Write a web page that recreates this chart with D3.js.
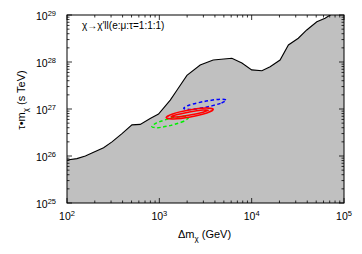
<!DOCTYPE html>
<html>
<head>
<meta charset="utf-8">
<script src="https://cdn.jsdelivr.net/npm/d3@7"></script>
<style>
  body { margin: 0; background: #fff; }
  svg text { font-family: "Liberation Sans", Arial, sans-serif; fill: #000; }
</style>
</head>
<body>
<div id="graphic"></div>
<script>
// excluded region boundary (mass in GeV, tau*m in s TeV)
const boundaryMass = [100, 128, 158, 194, 249, 307, 394, 505, 621, 796, 980, 1313, 1550, 1990, 2770, 3830, 6100, 7840, 10000, 12900, 15850, 20300, 25000, 32000, 39500, 50800, 62400, 70800, 100000];
const boundaryTau = [8.2e25, 8.8e25, 1.0e26, 1.2e26, 1.5e26, 2.0e26, 3.0e26, 4.6e26, 4.7e26, 6.3e26, 7.8e26, 1.55e27, 2.5e27, 5.2e27, 8.6e27, 1.1e28, 1.2e28, 9.5e27, 6.8e27, 6.5e27, 7.9e27, 1.1e28, 2.3e28, 3.2e28, 4.8e28, 7.2e28, 8.5e28, 1.0e29, 1.6e29];

// fit contours
const redOuterMass = [3837, 3266, 2163, 1422, 1186, 1393, 2099, 3199];
const redOuterTau = [9.87e26, 8.22e26, 6.79e26, 6.16e26, 6.53e26, 7.83e26, 9.48e26, 1.045e27];
const redInnerMass = [3396, 2978, 2148, 1542, 1340, 1528, 2119, 2951];
const redInnerTau = [9.42e26, 8.55e26, 7.45e26, 6.79e26, 6.82e26, 7.53e26, 8.63e26, 9.48e26];
const blueMass = [5300, 4600, 3192, 2178, 1837, 2123, 3083, 4529];
const blueTau = [1.55e27, 1.32e27, 1.09e27, 9.8e26, 1.03e27, 1.22e27, 1.45e27, 1.62e27];
const greenMass = [2075, 1841, 1340, 964, 830, 935, 1285, 1786];
const greenTau = [6.62e26, 5.50e26, 4.48e26, 4.00e26, 4.23e26, 5.06e26, 6.25e26, 6.97e26];

const xDecades = [2, 3, 4, 5];
const yDecades = [25, 26, 27, 28, 29];

const width = 362, height = 254;
const margin = { top: 15, right: 18, bottom: 51, left: 67 };
const chart_width = width - margin.left - margin.right;
const chart_height = height - margin.top - margin.bottom;

const svg = d3.select('#graphic').append('svg')
  .attr('width', width).attr('height', height);
const g = svg.append('g').attr('transform', `translate(${margin.left},${margin.top})`);

const x = d3.scaleLog().domain([1e2, 1e5]).range([0, chart_width]);
const y = d3.scaleLog().domain([1e25, 1e29]).range([chart_height, 0]);

g.append('clipPath').attr('id', 'plotclip')
  .append('rect').attr('width', chart_width).attr('height', chart_height);

const zip = (a, b) => a.map((d, i) => [d, b[i]]);
const boundary = zip(boundaryMass, boundaryTau);

const plot = g.append('g').attr('clip-path', 'url(#plotclip)');

plot.append('path')
  .datum(boundary)
  .attr('fill', '#c0c0c0')
  .attr('d', d3.area().x(d => x(d[0])).y0(chart_height).y1(d => y(d[1])));

plot.append('path')
  .datum(boundary)
  .attr('fill', 'none')
  .attr('stroke', '#000')
  .attr('stroke-width', 1.1)
  .attr('d', d3.line().x(d => x(d[0])).y(d => y(d[1])));

const contour = d3.line().x(d => x(d[0])).y(d => y(d[1])).curve(d3.curveCardinalClosed.tension(0.2));
const contours = [
  { pts: zip(greenMass, greenTau), color: '#00ee00', dash: '3.5,2.5' },
  { pts: zip(blueMass, blueTau), color: '#0000ff', dash: '3.5,2.5' },
  { pts: zip(redOuterMass, redOuterTau), color: '#ff0000', dash: null },
  { pts: zip(redInnerMass, redInnerTau), color: '#ff0000', dash: null }
];
plot.selectAll('path.contour')
  .data(contours)
  .join('path')
  .attr('class', 'contour')
  .attr('fill', 'none')
  .attr('stroke', d => d.color)
  .attr('stroke-width', 1.5)
  .attr('stroke-dasharray', d => d.dash)
  .attr('d', d => contour(d.pts));

// frame
g.append('rect')
  .attr('width', chart_width).attr('height', chart_height)
  .attr('fill', 'none').attr('stroke', '#000').attr('stroke-width', 1);

// inward ticks on all four sides
function logTicks(decades) {
  const out = [];
  decades.forEach((e, i) => {
    out.push({ v: Math.pow(10, e), major: true });
    if (i < decades.length - 1) {
      for (let k = 2; k <= 9; k++) out.push({ v: k * Math.pow(10, e), major: false });
    }
  });
  return out;
}
const xt = logTicks(xDecades), yt = logTicks(yDecades);
const tk = g.append('g').attr('stroke', '#000').attr('stroke-width', 0.8);
xt.forEach(t => {
  const len = t.major ? 5 : 2.5, px = x(t.v);
  tk.append('line').attr('x1', px).attr('x2', px).attr('y1', chart_height).attr('y2', chart_height - len);
  tk.append('line').attr('x1', px).attr('x2', px).attr('y1', 0).attr('y2', len);
});
yt.forEach(t => {
  const len = t.major ? 5 : 2.5, py = y(t.v);
  tk.append('line').attr('x1', 0).attr('x2', len).attr('y1', py).attr('y2', py);
  tk.append('line').attr('x1', chart_width).attr('x2', chart_width - len).attr('y1', py).attr('y2', py);
});

// tick labels
const fs = 10.5, sfs = 7.5;
g.selectAll('text.xl')
  .data(xDecades)
  .join('text')
  .attr('class', 'xl')
  .attr('x', d => x(Math.pow(10, d)))
  .attr('y', chart_height + 17)
  .attr('text-anchor', 'middle')
  .style('font-size', fs + 'px')
  .each(function (d) {
    const t = d3.select(this);
    t.append('tspan').text('10');
    t.append('tspan').attr('dy', -4.5).style('font-size', sfs + 'px').text(d);
  });

g.selectAll('text.yl')
  .data(yDecades)
  .join('text')
  .attr('class', 'yl')
  .attr('x', -11)
  .attr('y', d => y(Math.pow(10, d)) + 5)
  .attr('text-anchor', 'end')
  .style('font-size', fs + 'px')
  .each(function (d) {
    const t = d3.select(this);
    t.append('tspan').text('10');
    t.append('tspan').attr('dy', -4.5).style('font-size', sfs + 'px').text(d);
  });

// axis titles
const xTitle = g.append('text')
  .attr('x', chart_width / 2 - 1)
  .attr('y', chart_height + 35)
  .attr('text-anchor', 'middle')
  .style('font-size', '11px');
xTitle.append('tspan').text('Δm');
xTitle.append('tspan').attr('dy', 3).style('font-size', '8px').text('χ');
xTitle.append('tspan').attr('dy', -3).text(' (GeV)');

const yTitle = g.append('text')
  .attr('transform', `translate(${-42},${chart_height / 2 - 9}) rotate(-90)`)
  .attr('text-anchor', 'middle')
  .style('font-size', '11px');
yTitle.append('tspan').text('τ•m');
yTitle.append('tspan').attr('dy', 3).style('font-size', '8px').text('χ');
yTitle.append('tspan').attr('dy', -3).text(' (s TeV)');

// annotation
g.append('text')
  .attr('x', 15)
  .attr('y', 14)
  .style('font-size', '10px')
  .text('χ→χ′ll(e:μ:τ=1:1:1)');
</script>
</body>
</html>
